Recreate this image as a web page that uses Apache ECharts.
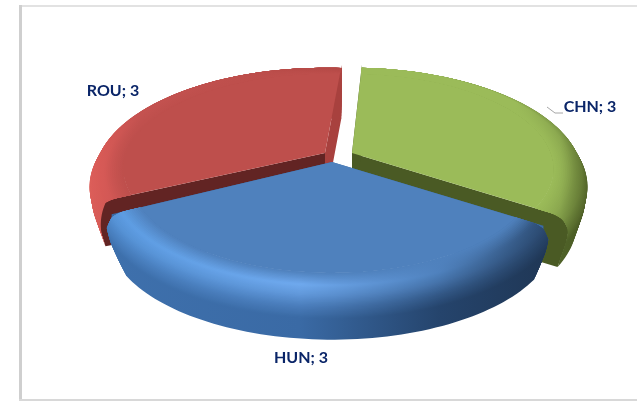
<!DOCTYPE html>
<html>
<head>
<meta charset="utf-8">
<style>html,body{margin:0;padding:0;background:#fff}#c{width:637px;height:401px}</style>
<script src="https://cdn.jsdelivr.net/npm/echarts@6/dist/echarts.min.js"></script>
</head>
<body>
<div id="c"></div>
<script>
const categories = ['HUN', 'ROU', 'CHN'];
const values = [3, 3, 3];

// Styling and projection parameters (not data)
const looks = {
  HUN: { c: [332, 162], shift: 0, order: 3, face: '#4f81bd', wall: '#3a6aa5', label: [301, 358], taper0: 2, taper1: 6,
    stops: [0.04, 0.42, 0.7, 0.93],
    hi: ['#5c9ce2', '#6fa9ee', '#4f81bd', '#2c4b72'], dk: ['#3e70ac', '#3a6aa5', '#25446c', '#1f3654'] },
  ROU: { c: [325, 153], shift: 2, order: 1, face: '#be4f4c', wall: '#622423', backWall: '#a8413e', label: [113, 91], taper0: 3, taper1: 0,
    stops: [0, 0.1, 0.3, 0.5],
    hi: ['#dc5c58', '#c45250', '#be4f4c', '#b24744'], dk: ['#dc5f5a', '#c24e4b', '#a8413e', '#a8413e'] },
  CHN: { c: [352, 153], shift: 0, order: 2, face: '#9bbb59', wall: '#4a5a24', label: [590, 107], taper0: 2, taper1: 0,
    stops: [0.5, 0.85, 0.94, 1],
    hi: ['#9bbb59', '#9bbb59', '#8aa74e', '#657a35'], dk: ['#5f7630', '#56692b', '#4f6228', '#4a5a24'] }
};
const R = 226, RY = 105, PERSP = 0.19, DEPTH = 52, START = 33;
const levels = [[0.88, 0, 0], [0.96, 0, 1], [1, 3, 1.25], [1.022, 12, 1.7], [1.012, 25, 2], [0.975, DEPTH, 2]];
const GX0 = 90, GX1 = 590, SUBS = 10;

function hex(h) { return [1, 3, 5].map(i => parseInt(h.substr(i, 2), 16)); }
function mixC(a, b, f) {
  const x = hex(a), y = hex(b);
  return 'rgb(' + x.map((v, i) => Math.round(v + (y[i] - v) * f)).join(',') + ')';
}
function pt(c, deg, s, dy) {
  const t = deg * Math.PI / 180, X = s * Math.cos(t), Z = s * Math.sin(t), p = 1 / (1 - PERSP * Z);
  return [c[0] + R * X * p, c[1] + RY * Z * p + dy];
}
function arc(c, a0, a1, s, dy) {
  const out = [], n = 70;
  for (let i = 0; i <= n; i++) out.push(pt(c, a0 + (a1 - a0) * i / n, s, dy));
  return out;
}
function fillAt(L, m) {
  const colorAt = i => m <= 1 ? mixC(L.face, L.hi[i], m) : mixC(L.hi[i], L.dk[i], m - 1);
  return {
    type: 'linear', global: true, x: GX0, y: 0, x2: GX1, y2: 0,
    colorStops: L.stops.map((o, i) => ({ offset: o, color: colorAt(i) }))
  };
}
function sliceAngles(idx) {
  const total = values.reduce((a, b) => a + b, 0);
  let a = START;
  for (let i = 0; i < idx; i++) a += values[i] / total * 360;
  return [a, a + values[idx] / total * 360];
}
function levelAt(u) {
  const i = Math.min(Math.floor(u), levels.length - 2), f = u - i;
  const A = levels[i], B = levels[i + 1];
  return [0, 1, 2].map(j => A[j] + (B[j] - A[j]) * f);
}
function renderSlice(params, api) {
  const idx = params.dataIndex, name = categories[idx], L = looks[name];
  const [a, b] = sliceAngles(idx);
  const a0 = a + L.shift, a1 = b + L.shift, c = L.c;
  const kids = [];
  let z = L.order * 2000;
  const poly = (points, fill) => kids.push({
    type: 'polygon', z2: z++, silent: true, shape: { points },
    style: { fill }
  });
  const tp = dy => Math.pow(dy / DEPTH, 2);
  const ta0 = dy => a0 + L.taper0 * tp(dy);
  const ta1 = dy => a1 - L.taper1 * tp(dy);
  // inner walls, following the rim profile at each end
  [[ta1, L.backWall || L.wall], [ta0, L.wall]].forEach(([fn, col]) => {
    const edge = [pt(c, fn(0), 1, 0)].concat(levels.slice(2).map(l => pt(c, fn(l[1]), l[0], l[1])));
    poly([[c[0], c[1]]].concat(edge, [[c[0], c[1] + DEPTH]]), col);
  });
  // rounded rim, painted from the bottom edge upward; each strip overlaps the next ones
  const total = (levels.length - 1) * SUBS;
  for (let k = total - 1; k >= 0; k--) {
    const outer = levelAt((k + 1) / SUBS), inner = levelAt(Math.max(0, k - 4) / SUBS), mid = levelAt((k + 0.5) / SUBS);
    const top = arc(c, ta0(inner[1]), ta1(inner[1]), inner[0], inner[1]);
    const bot = arc(c, ta0(outer[1]), ta1(outer[1]), outer[0], outer[1]).reverse();
    poly(top.concat(bot), fillAt(L, mid[2]));
  }
  // flat top face, reaching the rim along its straight edges
  const s = levels[0][0];
  poly([[c[0], c[1]]].concat(arc(c, a0, a1, s, 0)), L.face);
  poly([[c[0], c[1]], pt(c, a0, s, 0), pt(c, a0, 1, 0)], L.face);
  poly([[c[0], c[1]], pt(c, a1, s, 0), pt(c, a1, 1, 0)], L.face);
  // label
  kids.push({
    type: 'text', z2: 9000, silent: true,
    style: {
      x: L.label[0], y: L.label[1], text: name + '; ' + api.value(0),
      font: 'bold 16px Lato, "Open Sans", sans-serif', fill: '#0a2568',
      align: 'center', verticalAlign: 'middle'
    }
  });
  return { type: 'group', children: kids };
}

const chart = echarts.init(document.getElementById('c'), null, { renderer: 'canvas' });
chart.setOption({
  animation: false,
  backgroundColor: '#ffffff',
  graphic: [
    { type: 'rect', z: -1, shape: { x: 19, y: 5, width: 618, height: 2 }, style: { fill: '#e2e2e2' } },
    { type: 'rect', z: -1, shape: { x: 19, y: 5, width: 3, height: 396 }, style: { fill: '#cfcfcf' } },
    { type: 'rect', z: -1, shape: { x: 19, y: 399, width: 618, height: 2 }, style: { fill: '#d8d8d8' } },
    { type: 'polyline', z: 5, shape: { points: [[547, 107], [555, 113], [563, 113]] },
      style: { stroke: '#a6a6a6', lineWidth: 1, fill: 'none' } }
  ],
  series: [{
    type: 'custom',
    coordinateSystem: 'none',
    renderItem: renderSlice,
    data: values.map((v, i) => ({ name: categories[i], value: [v] })),
    silent: true,
    clip: false
  }]
});
</script>
</body>
</html>
